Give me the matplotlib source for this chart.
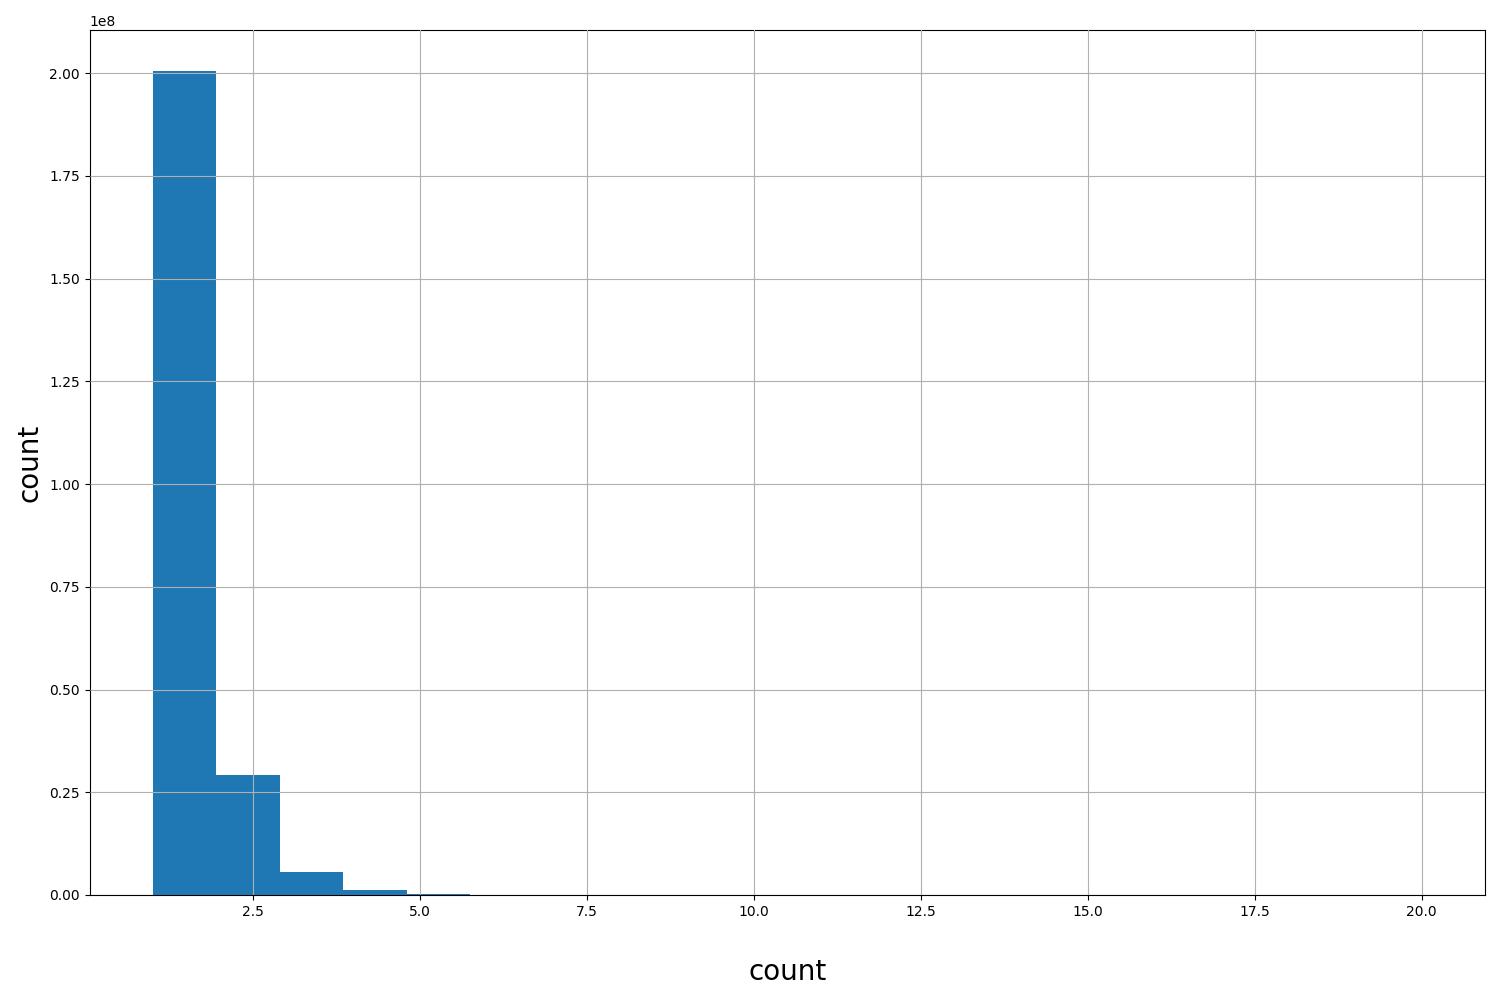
import numpy as np
import matplotlib.pyplot as plt

# bin edges of the histogram and the counts
bin_edges = np.linspace(1, 20, 21)
counts = [200.5e6, 29.2e6, 5.6e6, 1.2e6, 3.0e5, 8.0e4, 3.0e4, 1.2e4, 5.0e3, 2.5e3,
          1.2e3, 700, 400, 250, 150, 100, 60, 40, 30, 20]

centers = (bin_edges[:-1] + bin_edges[1:]) / 2

fig = plt.figure(figsize=(15, 10), dpi=100)
ax = fig.add_subplot(111)
ax.hist(centers, bins=bin_edges, weights=counts, color='#1f77b4')
ax.grid(True)
ax.set_axisbelow(False)
ax.set_xlabel('count', fontsize=20, labelpad=28)
ax.set_ylabel('count', fontsize=20)
fig.subplots_adjust(left=0.0597, right=0.99, bottom=0.105, top=0.97)
fig.savefig('out.png')
